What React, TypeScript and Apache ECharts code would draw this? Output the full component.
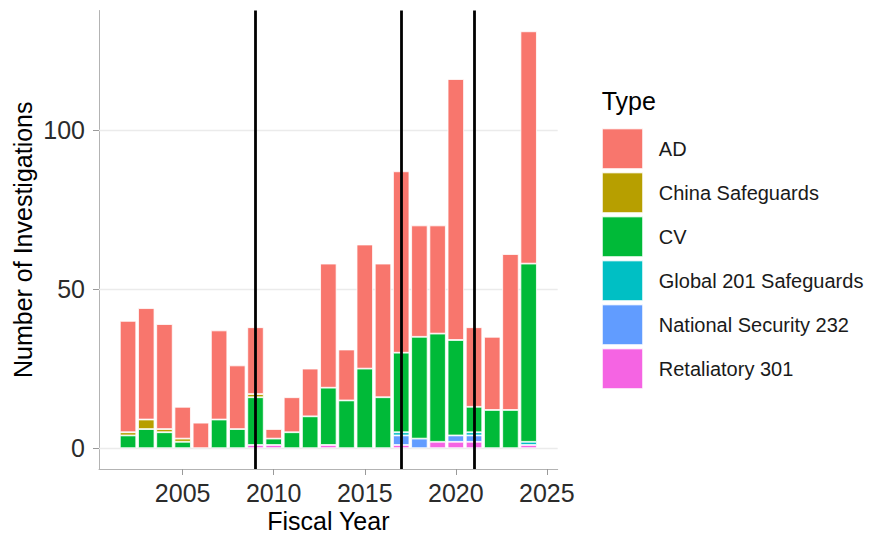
import React, { useEffect, useRef } from "react";
import * as echarts from "echarts";

// ---- Data ----
const years = [2002, 2003, 2004, 2005, 2006, 2007, 2008, 2009, 2010, 2011, 2012, 2013, 2014, 2015, 2016, 2017, 2018, 2019, 2020, 2021, 2022, 2023, 2024];
const adValues = [35, 35, 33, 10, 8, 28, 20, 21, 3, 11, 15, 39, 16, 39, 42, 57, 35, 34, 82, 25, 23, 49, 73];
const chinaSafeguardValues = [1, 3, 1, 1, 0, 0, 0, 1, 0, 0, 0, 0, 0, 0, 0, 0, 0, 0, 0, 0, 0, 0, 0];
const cvValues = [4, 6, 5, 2, 0, 9, 6, 15, 2, 5, 10, 18, 15, 25, 16, 25, 32, 34, 30, 8, 12, 12, 56];
const global201Values = [0, 0, 0, 0, 0, 0, 0, 0, 0, 0, 0, 0, 0, 0, 0, 1, 0, 0, 0, 1, 0, 0, 1];
const nationalSecurity232Values = [0, 0, 0, 0, 0, 0, 0, 0, 0, 0, 0, 0, 0, 0, 0, 3, 3, 0, 2, 2, 0, 0, 0];
const retaliatory301Values = [0, 0, 0, 0, 0, 0, 0, 1, 1, 0, 0, 1, 0, 0, 0, 1, 0, 2, 2, 2, 0, 0, 1];

const typeNames = ["AD", "China Safeguards", "CV", "Global 201 Safeguards", "National Security 232", "Retaliatory 301"];
const typeColors = ["#F8766D", "#B79F00", "#00BA38", "#00BFC4", "#619CFF", "#F564E3"];
const typeValues = [adValues, chinaSafeguardValues, cvValues, global201Values, nationalSecurity232Values, retaliatory301Values];

const xTickValues = [2005, 2010, 2015, 2020, 2025];
const yTickValues = [0, 50, 100];
const policyLineYears = [2009, 2017, 2021];

const xAxisTitle = "Fiscal Year";
const yAxisTitle = "Number of Investigations";
const legendTitle = "Type";

// ---- Layout ----
const W = 869;
const H = 535;
const GRID_LEFT = 99;
const GRID_TOP = 10.5;
const GRID_W = 458.7;
const GRID_H = 458.5;
const X_MIN = 2000.405;
const X_MAX = 2025.595;
const Y_MIN = -6.55;
const Y_MAX = 137.55;
const FONT = "'Liberation Sans', Arial, Helvetica, sans-serif";
const BAR_BORDER = 0.8;

export default function App() {
  const ref = useRef<HTMLDivElement | null>(null);

  useEffect(() => {
    document.body.style.margin = "0";
    if (!ref.current) return;
    const chart = echarts.init(ref.current, null, { renderer: "svg" });

    const barWidth = (GRID_W / (X_MAX - X_MIN)) * 0.9;

    // ECharts stacks the first series at the bottom; ggplot puts the first level on top.
    const order = [5, 4, 3, 2, 1, 0];
    const series: any[] = order.map((idx, k) => {
      const s: any = {
        type: "bar",
        name: typeNames[idx],
        stack: "total",
        barWidth,
        z: 2,
        // value first so that the stack is computed on the y (count) dimension
        encode: { x: 1, y: 0 },
        itemStyle: { color: typeColors[idx], borderColor: "#ffffff", borderWidth: BAR_BORDER },
        emphasis: { disabled: true },
        data: years.map((y, i) => {
          const v = typeValues[idx][i];
          return v === 0
            ? { value: [v, y], itemStyle: { borderWidth: 0 } }
            : { value: [v, y] };
        }),
      };
      if (k === 0) {
        s.markLine = {
          silent: true,
          z: 1,
          symbol: "none",
          label: { show: false },
          lineStyle: { color: "#ebebeb", width: 1.3, type: "solid" },
          data: yTickValues.map((v) => ({ yAxis: v })),
        };
      }
      if (k === 1) {
        s.markLine = {
          silent: true,
          z: 10,
          symbol: "none",
          label: { show: false },
          lineStyle: { color: "#000000", width: 2.8, type: "solid" },
          data: policyLineYears.map((v) => ({ xAxis: v })),
        };
      }
      return s;
    });

    chart.setOption({
      animation: false,
      backgroundColor: "#ffffff",
      grid: { left: GRID_LEFT, top: GRID_TOP, width: GRID_W, height: GRID_H, containLabel: false },
      xAxis: {
        type: "value",
        min: X_MIN,
        max: X_MAX,
        axisLine: { show: true, onZero: false, lineStyle: { color: "#b3b3b3", width: 1 } },
        axisTick: { show: true, length: 6, customValues: xTickValues, lineStyle: { color: "#9a9a9a", width: 1 } },
        axisLabel: {
          show: true,
          customValues: xTickValues,
          margin: 11,
          fontSize: 25,
          fontFamily: FONT,
          color: "#2b2b2b",
          formatter: (v: number) => String(Math.round(v)),
        },
        splitLine: { show: false },
      },
      yAxis: {
        type: "value",
        min: Y_MIN,
        max: Y_MAX,
        axisLine: { show: true, lineStyle: { color: "#b3b3b3", width: 1 } },
        axisTick: { show: true, length: 6, customValues: yTickValues, lineStyle: { color: "#9a9a9a", width: 1 } },
        axisLabel: {
          show: true,
          customValues: yTickValues,
          margin: 14,
          fontSize: 25,
          fontFamily: FONT,
          color: "#2b2b2b",
          formatter: (v: number) => String(Math.round(v)),
        },
        splitLine: { show: false },
      },
      legend: {
        show: true,
        orient: "vertical",
        left: 601.7,
        top: 128.3,
        padding: 0,
        itemWidth: 40.6,
        itemHeight: 40,
        itemGap: 3.0,
        icon: "rect",
        data: typeNames,
        selectedMode: false,
        itemStyle: { borderColor: "#ffffff", borderWidth: 1 },
        textStyle: { fontSize: 20, fontFamily: FONT, color: "#1a1a1a", padding: [0, 0, 0, 11] },
      },
      graphic: [
        {
          type: "text",
          x: 22.5,
          y: GRID_TOP + GRID_H / 2,
          rotation: Math.PI / 2,
          style: { text: yAxisTitle, fontSize: 25, fontFamily: FONT, fill: "#000000", align: "center", verticalAlign: "middle" },
        },
        {
          type: "text",
          x: GRID_LEFT + GRID_W / 2,
          y: 521.3,
          style: { text: xAxisTitle, fontSize: 25, fontFamily: FONT, fill: "#000000", align: "center", verticalAlign: "middle" },
        },
        {
          type: "text",
          x: 601.7,
          y: 100.6,
          style: { text: legendTitle, fontSize: 25, fontFamily: FONT, fill: "#000000", align: "left", verticalAlign: "middle" },
        },
      ],
      series,
    });

    return () => {
      chart.dispose();
    };
  }, []);

  return <div ref={ref} style={{ width: W, height: H }} />;
}
